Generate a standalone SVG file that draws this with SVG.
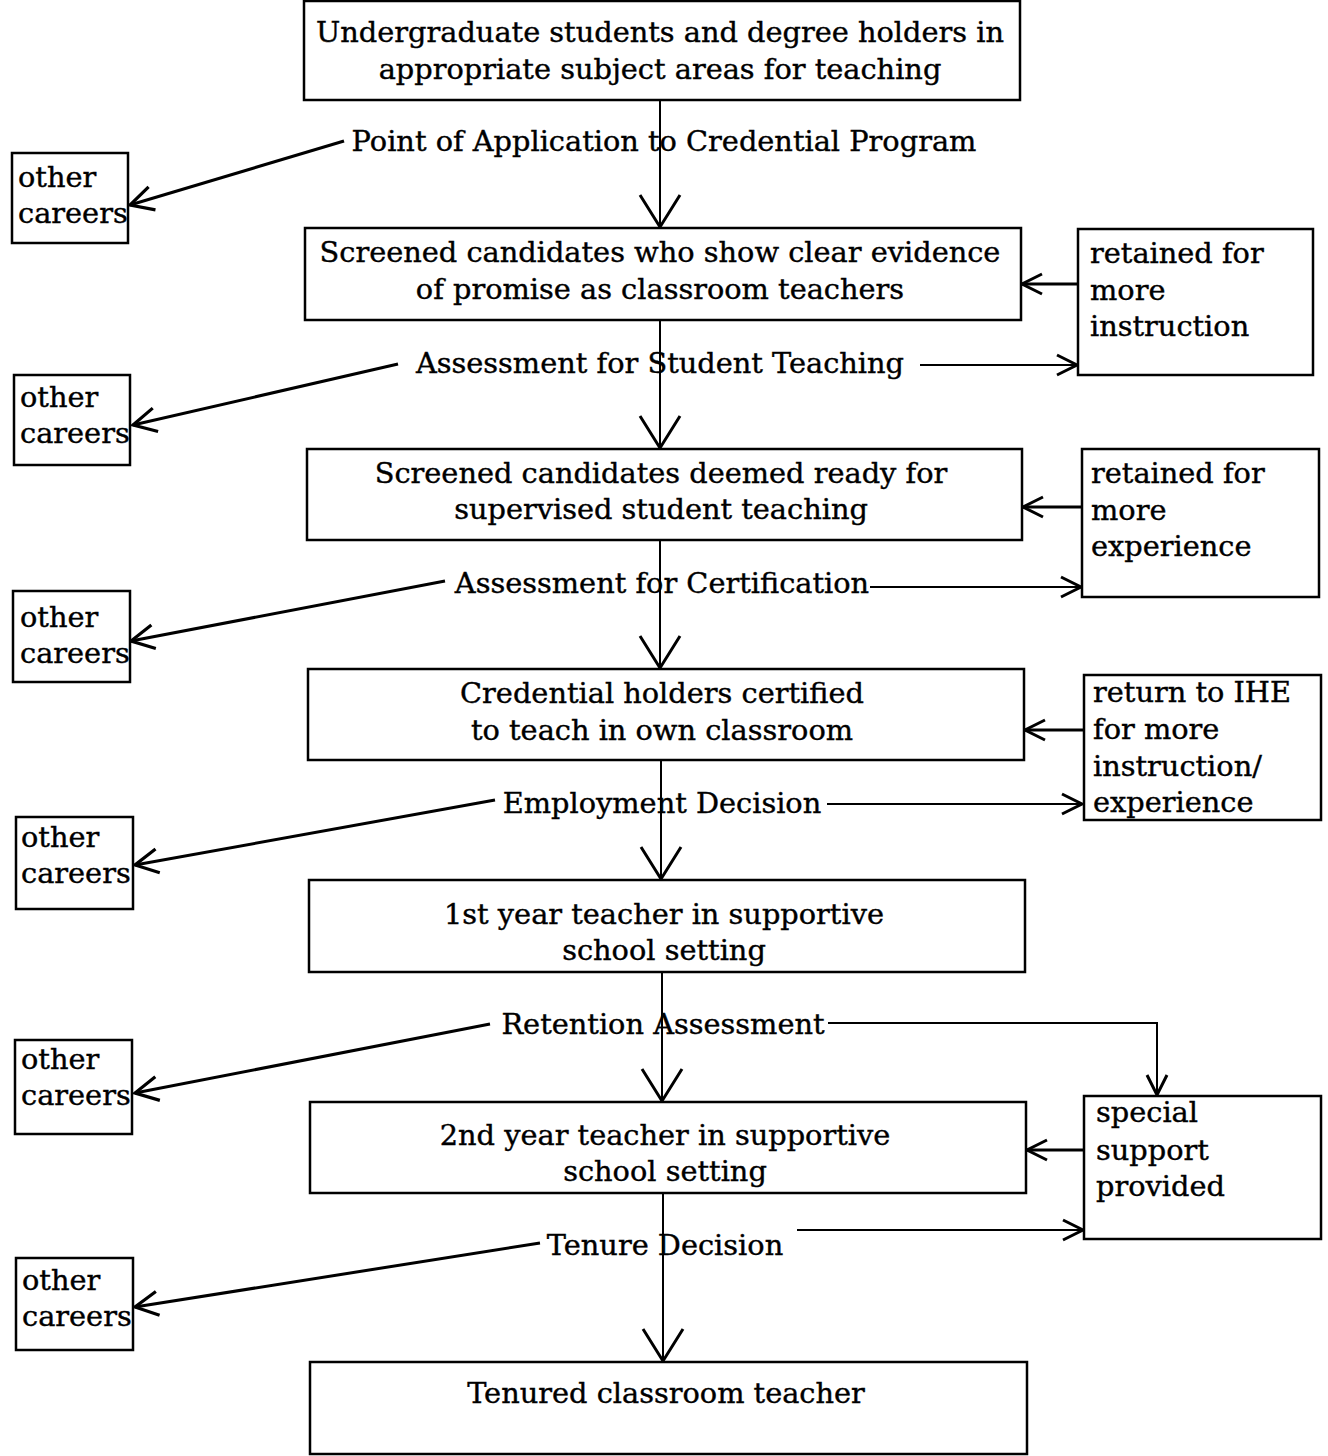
<svg xmlns="http://www.w3.org/2000/svg" width="1328" height="1456" viewBox="0 0 1328 1456">
<style>
.box{fill:#fff;stroke:#000;stroke-width:2.5}
.t{font-family:"DejaVu Serif","Liberation Serif",serif;font-size:28.8px;fill:#000;stroke:#000;stroke-width:0.4}
.c{text-anchor:middle}
.ln{fill:none;stroke:#000;stroke-width:3}
.sp{fill:none;stroke:#000;stroke-width:2}
</style>
<defs>
<marker id="big" markerUnits="userSpaceOnUse" markerWidth="40" markerHeight="48" refX="34" refY="22" orient="auto" viewBox="0 0 40 44">
<path d="M2,2 L34,22 L2,42" fill="none" stroke="#000" stroke-width="3"/>
</marker>
<marker id="ah" markerUnits="userSpaceOnUse" markerWidth="34" markerHeight="34" refX="26" refY="15" orient="auto" viewBox="0 0 34 30">
<path d="M3,3 L26,15 L3,27" fill="none" stroke="#000" stroke-width="3.2"/>
</marker>
<marker id="as" markerUnits="userSpaceOnUse" markerWidth="30" markerHeight="30" refX="22" refY="15" orient="auto" viewBox="0 0 30 30">
<path d="M2,5 L22,15 L2,25" fill="none" stroke="#000" stroke-width="3"/>
</marker>
</defs>
<rect width="1328" height="1456" fill="#fff"/>

<g id="connectors">
<path class="sp" d="M660,100 V227" marker-end="url(#big)"/>
<path class="sp" d="M660,320 V448" marker-end="url(#big)"/>
<path class="sp" d="M660,540 V668" marker-end="url(#big)"/>
<path class="sp" d="M661,760 V879" marker-end="url(#big)"/>
<path class="sp" d="M662,972 V1101" marker-end="url(#big)"/>
<path class="sp" d="M663,1193 V1361" marker-end="url(#big)"/>
<path class="ln" d="M344,141 L130,205" marker-end="url(#ah)"/>
<path class="ln" d="M398,364 L133,425" marker-end="url(#ah)"/>
<path class="ln" d="M445,581 L131,641" marker-end="url(#ah)"/>
<path class="ln" d="M495,800 L135,865" marker-end="url(#ah)"/>
<path class="ln" d="M490,1024 L135,1093" marker-end="url(#ah)"/>
<path class="ln" d="M540,1243 L135,1307" marker-end="url(#ah)"/>
<path class="sp" d="M920,365 H1077" marker-end="url(#as)"/>
<path class="sp" d="M870,587 H1081" marker-end="url(#as)"/>
<path class="sp" d="M827,804 H1082" marker-end="url(#as)"/>
<path class="sp" d="M828,1023 H1157 V1095" marker-end="url(#as)"/>
<path class="sp" d="M797,1230 H1083" marker-end="url(#as)"/>
<path class="ln" d="M1078,284 H1022" marker-end="url(#as)"/>
<path class="ln" d="M1082,507 H1023" marker-end="url(#as)"/>
<path class="ln" d="M1084,730 H1025" marker-end="url(#as)"/>
<path class="ln" d="M1084,1150 H1027" marker-end="url(#as)"/>
</g>

<g id="n-undergrad">
<rect class="box" x="304" y="1" width="716" height="99"/>
<text class="t c" x="660" y="42">Undergraduate students and degree holders in</text>
<text class="t c" x="660" y="79">appropriate subject areas for teaching</text>
</g>
<g id="l-application">
<text class="t c" x="664" y="151">Point of Application to Credential Program</text>
</g>
<g id="n-screened">
<rect class="box" x="305" y="228" width="716" height="92"/>
<text class="t c" x="660" y="262">Screened candidates who show clear evidence</text>
<text class="t c" x="660" y="299">of promise as classroom teachers</text>
</g>
<g id="l-student-teaching">
<text class="t c" x="660" y="373">Assessment for Student Teaching</text>
</g>
<g id="n-ready">
<rect class="box" x="307" y="449" width="715" height="91"/>
<text class="t c" x="661" y="483">Screened candidates deemed ready for</text>
<text class="t c" x="661" y="519">supervised student teaching</text>
</g>
<g id="l-certification">
<text class="t c" x="662" y="593">Assessment for Certification</text>
</g>
<g id="n-credential">
<rect class="box" x="308" y="669" width="716" height="91"/>
<text class="t c" x="662" y="703">Credential holders certified</text>
<text class="t c" x="662" y="740">to teach in own classroom</text>
</g>
<g id="l-employment">
<text class="t c" x="662" y="813">Employment Decision</text>
</g>
<g id="n-first-year">
<rect class="box" x="309" y="880" width="716" height="92"/>
<text class="t c" x="664" y="924">1st year teacher in supportive</text>
<text class="t c" x="664" y="960">school setting</text>
</g>
<g id="l-retention">
<text class="t c" x="663" y="1034">Retention Assessment</text>
</g>
<g id="n-second-year">
<rect class="box" x="310" y="1102" width="716" height="91"/>
<text class="t c" x="665" y="1145">2nd year teacher in supportive</text>
<text class="t c" x="665" y="1181">school setting</text>
</g>
<g id="l-tenure">
<text class="t c" x="665" y="1255">Tenure Decision</text>
</g>
<g id="n-tenured">
<rect class="box" x="310" y="1362" width="717" height="92"/>
<text class="t c" x="666" y="1403">Tenured classroom teacher</text>
</g>

<g id="oc1"><rect class="box" x="12" y="153" width="116" height="90"/><text class="t" x="18" y="187">other</text><text class="t" x="18" y="223">careers</text></g>
<g id="oc2"><rect class="box" x="14" y="375" width="116" height="90"/><text class="t" x="20" y="407">other</text><text class="t" x="20" y="443">careers</text></g>
<g id="oc3"><rect class="box" x="13" y="591" width="117" height="91"/><text class="t" x="20" y="627">other</text><text class="t" x="20" y="663">careers</text></g>
<g id="oc4"><rect class="box" x="16" y="817" width="117" height="92"/><text class="t" x="21" y="847">other</text><text class="t" x="21" y="883">careers</text></g>
<g id="oc5"><rect class="box" x="15" y="1040" width="117" height="94"/><text class="t" x="21" y="1069">other</text><text class="t" x="21" y="1105">careers</text></g>
<g id="oc6"><rect class="box" x="16" y="1258" width="117" height="92"/><text class="t" x="22" y="1290">other</text><text class="t" x="22" y="1326">careers</text></g>

<g id="r-instruction"><rect class="box" x="1078" y="229" width="235" height="146"/>
<text class="t" x="1090" y="263">retained for</text><text class="t" x="1090" y="300">more</text><text class="t" x="1090" y="336">instruction</text></g>
<g id="r-experience"><rect class="box" x="1082" y="449" width="237" height="148"/>
<text class="t" x="1091" y="483">retained for</text><text class="t" x="1091" y="520">more</text><text class="t" x="1091" y="556">experience</text></g>
<g id="r-ihe"><rect class="box" x="1084" y="675" width="237" height="145"/>
<text class="t" x="1093" y="702">return to IHE</text><text class="t" x="1093" y="739">for more</text><text class="t" x="1093" y="776">instruction/</text><text class="t" x="1093" y="812">experience</text></g>
<g id="r-support"><rect class="box" x="1084" y="1096" width="237" height="143"/>
<text class="t" x="1096" y="1122">special</text><text class="t" x="1096" y="1160">support</text><text class="t" x="1096" y="1196">provided</text></g>
</svg>
